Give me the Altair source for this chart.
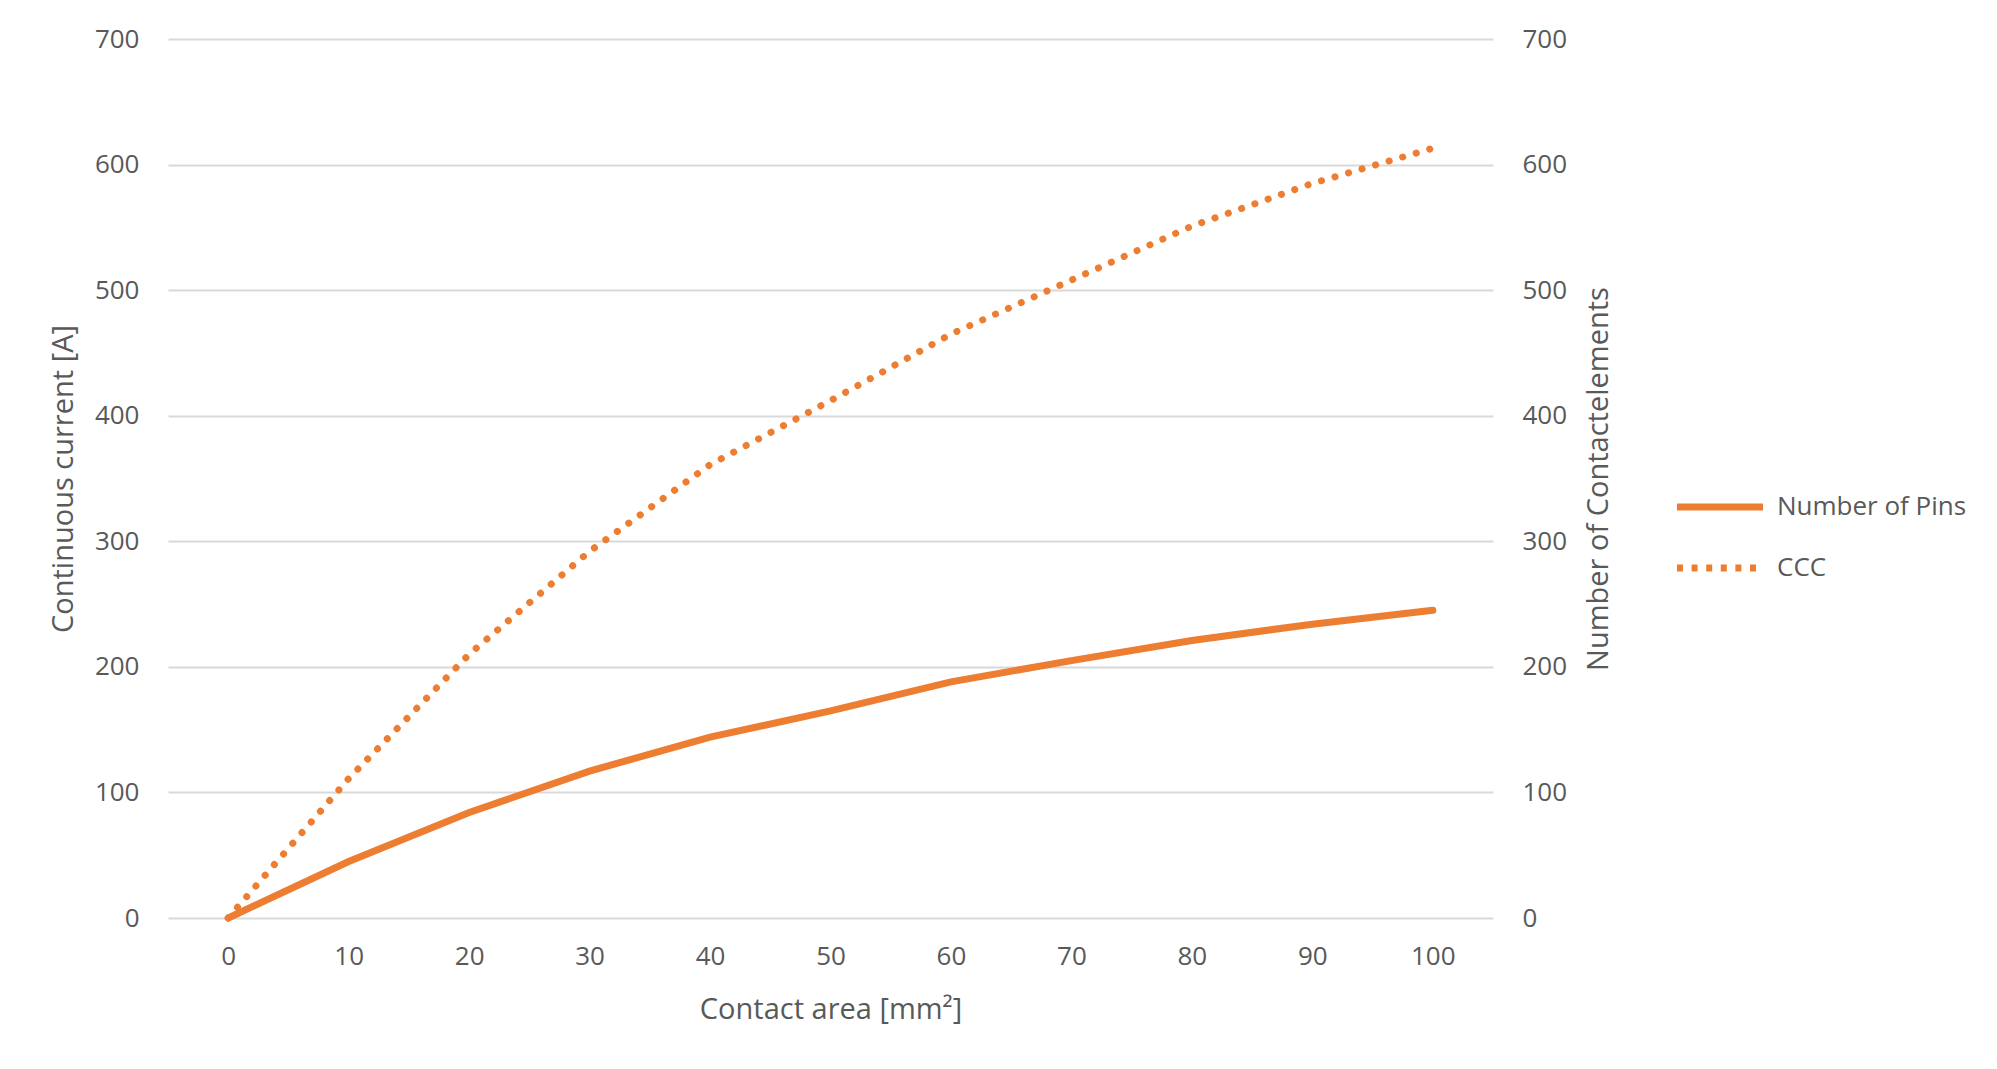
import altair as alt
import pandas as pd

# ---- data ----
area = [0, 10, 20, 30, 40, 50, 60, 70, 80, 90, 100]
pins = [0, 45, 84, 117, 144, 165, 188, 205, 221, 234, 245]
ccc = [0, 111, 210, 292, 361, 412, 465, 508, 551, 585, 613]
y_ticks = [0, 100, 200, 300, 400, 500, 600, 700]
series_names = ["Number of Pins", "CCC"]

df_pins = pd.DataFrame({"area": area, "value": pins, "series": "Number of Pins"})
df_ccc = pd.DataFrame({"area": area, "value": ccc, "series": "CCC"})
df_all = pd.concat([df_pins, df_ccc], ignore_index=True)

ORANGE = "#ED7D31"
TEXT = "#595959"
GRID = "#D9D9D9"
FONT = "Open Sans"
FS = 26
TFS = 29
LW = 7

x_enc = alt.X(
    "area:O",
    sort=area,
    scale=alt.Scale(type="point", padding=0.5),
    axis=alt.Axis(
        title="Contact area [mm²]",
        labelAngle=0,
        ticks=False,
        domain=False,
        grid=False,
        labelPadding=25,
        titlePadding=26,
    ),
)

y_left = alt.Y(
    "value:Q",
    scale=alt.Scale(domain=[0, 700], nice=False),
    axis=alt.Axis(
        title="Continuous current [A]",
        values=y_ticks,
        grid=True,
        gridColor=GRID,
        gridWidth=2,
        domain=False,
        ticks=False,
        labelPadding=29,
        titlePadding=16,
    ),
)

# CCC on the left axis: round dots
left = alt.Chart(df_ccc).mark_line(
    color=ORANGE, strokeWidth=LW, strokeCap="round", strokeDash=[0.1, 14]
).encode(x=x_enc, y=y_left)

# Number of Pins on the right axis: solid line
right = alt.Chart(df_pins).mark_line(
    color=ORANGE, strokeWidth=LW, strokeCap="round"
).encode(
    x=x_enc,
    y=alt.Y(
        "value:Q",
        scale=alt.Scale(domain=[0, 700], nice=False),
        axis=alt.Axis(
            title="Number of Contactelements",
            orient="right",
            values=y_ticks,
            grid=False,
            domain=False,
            ticks=False,
            labelPadding=29,
            titlePadding=47,
            titleAngle=270,
        ),
    ),
)

# invisible layer that only carries the legend
legend_layer = alt.Chart(df_all).mark_line(
    color=ORANGE, strokeWidth=LW, opacity=0
).encode(
    x=x_enc,
    y=alt.Y("value:Q", scale=alt.Scale(domain=[0, 700], nice=False), axis=None),
    strokeDash=alt.StrokeDash(
        "series:N",
        scale=alt.Scale(domain=series_names, range=[[1, 0], [6, 8.6]]),
        legend=alt.Legend(
            title=None,
            orient="none",
            legendX=1505,
            legendY=421,
            symbolType="stroke",
            symbolSize=7400,
            symbolStrokeWidth=LW,
            symbolStrokeColor=ORANGE,
            symbolOpacity=1,
            labelFontSize=FS,
            labelColor=TEXT,
            labelFont=FONT,
            labelLimit=0,
            rowPadding=-4,
            labelOffset=10,
        ),
    ),
)

chart = (
    alt.layer(left, right, legend_layer)
    .resolve_scale(y="independent")
    .properties(
        width=1325,
        height=879,
        background="white",
        autosize=alt.AutoSizeParams(type="none"),
        padding={"left": 160, "top": 31, "right": 496, "bottom": 140},
    )
    .configure_view(stroke=None)
    .configure_axis(
        labelFont=FONT,
        labelFontSize=FS,
        labelColor=TEXT,
        titleFont=FONT,
        titleFontSize=TFS,
        titleColor=TEXT,
        titleFontWeight="normal",
    )
)

chart.save("out.html", embed_options={"renderer": "svg", "actions": False})
